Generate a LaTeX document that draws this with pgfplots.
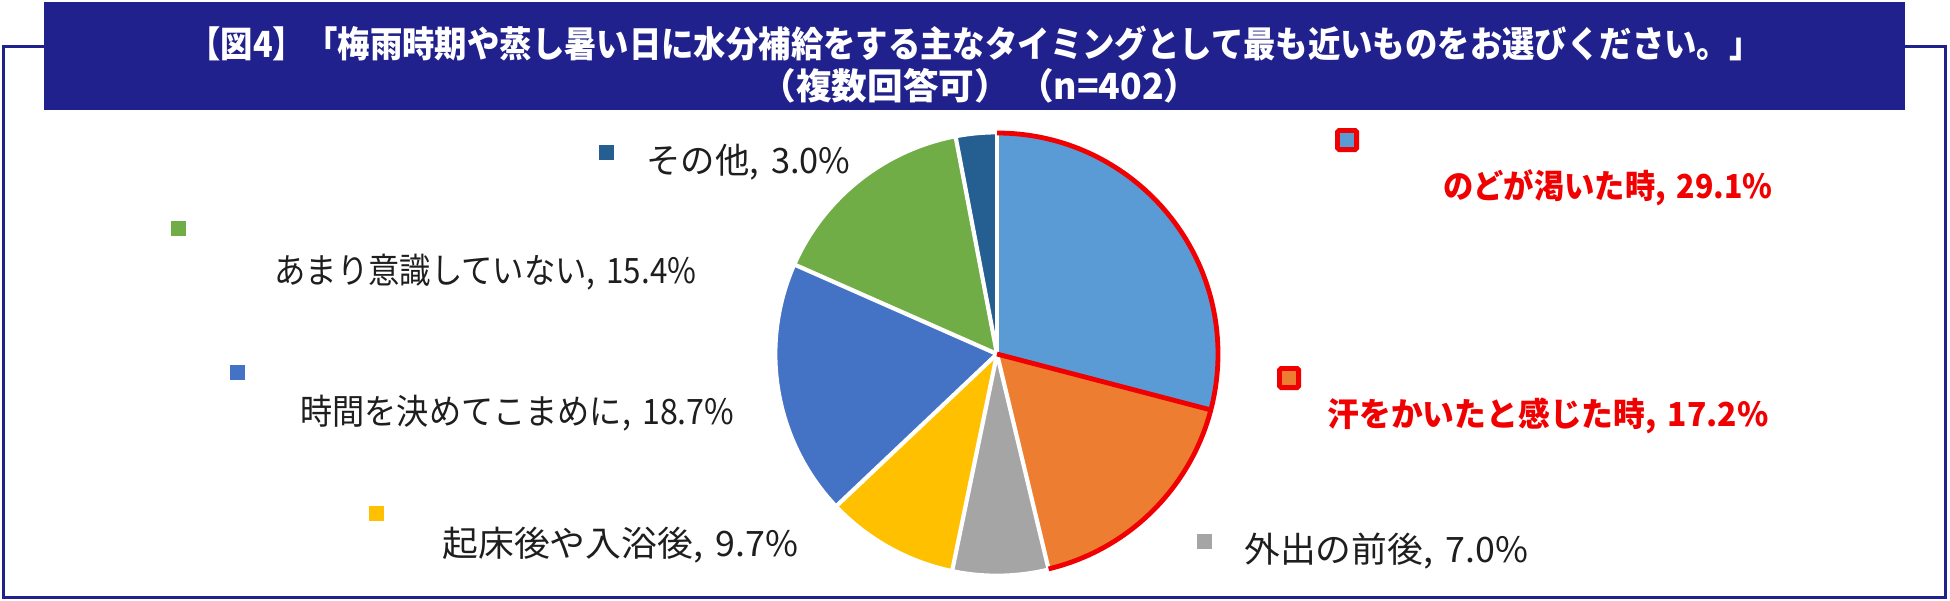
\documentclass[border=0pt]{standalone}
\usepackage{pgfplots}
\pgfplotsset{compat=1.18}
\usepackage{graphicx}
\usepackage{fontspec}
\setmainfont{Noto Sans CJK JP}
\definecolor{navy}{RGB}{32,33,140}
\definecolor{cA}{HTML}{5B9BD5}
\definecolor{cB}{HTML}{ED7D31}
\definecolor{cC}{HTML}{A5A5A5}
\definecolor{cD}{HTML}{FFC000}
\definecolor{cE}{HTML}{4472C4}
\definecolor{cF}{HTML}{70AD47}
\definecolor{cG}{HTML}{255E91}
\definecolor{lbl}{HTML}{1E1E1E}
\definecolor{hl}{HTML}{F00000}
\newcommand{\wbox}[2]{\resizebox{#1pt}{\height}{#2}}
\newcommand{\cs}{,\hspace{0.35em}}
\begin{document}
\begin{tikzpicture}
\path[use as bounding box] (0,0) rectangle (975pt,300pt);
% data (percent)
\def\vA{29.1}\def\vB{17.2}\def\vC{7.0}\def\vD{9.7}\def\vE{18.7}\def\vF{15.4}\def\vG{3.0}
\pgfmathsetmacro{\T}{\vA+\vB+\vC+\vD+\vE+\vF+\vG}
\pgfmathsetmacro{\sA}{0}
\pgfmathsetmacro{\sB}{\sA+\vA}
\pgfmathsetmacro{\sC}{\sB+\vB}
\pgfmathsetmacro{\sD}{\sC+\vC}
\pgfmathsetmacro{\sE}{\sD+\vD}
\pgfmathsetmacro{\sF}{\sE+\vE}
\pgfmathsetmacro{\sG}{\sF+\vF}
\pgfmathsetmacro{\sH}{\sG+\vG}
\pgfmathsetmacro{\aA}{90-360*(\sA/\T)}
\pgfmathsetmacro{\aB}{90-360*(\sB/\T)}
\pgfmathsetmacro{\aC}{90-360*(\sC/\T)}
\pgfmathsetmacro{\aD}{90-360*(\sD/\T)}
\pgfmathsetmacro{\aE}{90-360*(\sE/\T)}
\pgfmathsetmacro{\aF}{90-360*(\sF/\T)}
\pgfmathsetmacro{\aG}{90-360*(\sG/\T)}
\pgfmathsetmacro{\aH}{90-360*(\sH/\T)}
\def\R{110.5pt}
\begin{axis}[at={(0,0)}, anchor=south west, scale only axis,
  width=975pt, height=300pt, xmin=0, xmax=1950, ymin=0, ymax=600,
  y dir=reverse, hide axis, clip=false]
% frame and banner
\draw[navy, line width=1.5pt] (axis cs:3,46) rectangle (axis cs:1945,597);
\fill[navy] (axis cs:44,2) rectangle (axis cs:1905,110);
\node[text=white, font=\bfseries\fontsize{18pt}{20pt}\selectfont, inner sep=0] at (axis cs:975,44)
  {\wbox{786.5}{【図4】「梅雨時期や蒸し暑い日に水分補給をする主なタイミングとして最も近いものをお選びください。」}};
\node[text=white, font=\bfseries\fontsize{18pt}{20pt}\selectfont, inner sep=0] at (axis cs:980,86)
  {\wbox{219.5}{（複数回答可） （n=402）}};
% pie slices
\fill[cA] (axis cs:997,354) -- ++(\aA:\R) arc[start angle=\aA, end angle=\aB, radius=\R] -- cycle;
\fill[cB] (axis cs:997,354) -- ++(\aB:\R) arc[start angle=\aB, end angle=\aC, radius=\R] -- cycle;
\fill[cC] (axis cs:997,354) -- ++(\aC:\R) arc[start angle=\aC, end angle=\aD, radius=\R] -- cycle;
\fill[cD] (axis cs:997,354) -- ++(\aD:\R) arc[start angle=\aD, end angle=\aE, radius=\R] -- cycle;
\fill[cE] (axis cs:997,354) -- ++(\aE:\R) arc[start angle=\aE, end angle=\aF, radius=\R] -- cycle;
\fill[cF] (axis cs:997,354) -- ++(\aF:\R) arc[start angle=\aF, end angle=\aG, radius=\R] -- cycle;
\fill[cG] (axis cs:997,354) -- ++(\aG:\R) arc[start angle=\aG, end angle=\aH, radius=\R] -- cycle;
% white separators
\draw[white, line width=2.1pt] (axis cs:997,354) -- ++(\aA:\R);
\draw[white, line width=2.1pt] (axis cs:997,354) -- ++(\aC:\R);
\draw[white, line width=2.1pt] (axis cs:997,354) -- ++(\aD:\R);
\draw[white, line width=2.1pt] (axis cs:997,354) -- ++(\aE:\R);
\draw[white, line width=2.1pt] (axis cs:997,354) -- ++(\aF:\R);
\draw[white, line width=2.1pt] (axis cs:997,354) -- ++(\aG:\R);
\draw[white, line width=1.4pt] (axis cs:997,354) ++(\aC:\R) arc[start angle=\aC, end angle=\aH, radius=\R];
% red outline of highlighted slices
\draw[hl, line width=2.4pt] (axis cs:997,354) -- ++(\aB:\R);
\draw[hl, line width=2.4pt] (axis cs:997,354) ++(\aA:\R) arc[start angle=\aA, end angle=\aC, radius=\R];
% label keys
\node[fill=cG, minimum size=7.5pt, inner sep=0] at (axis cs:606,152) {};
\node[fill=cF, minimum size=7.5pt, inner sep=0] at (axis cs:178,228) {};
\node[fill=cE, minimum size=7.5pt, inner sep=0] at (axis cs:237,372) {};
\node[fill=cD, minimum size=7.5pt, inner sep=0] at (axis cs:376,513) {};
\node[fill=cC, minimum size=7.5pt, inner sep=0] at (axis cs:1204,541) {};
\node[fill=cA, draw=hl, line width=2.4pt, minimum size=9.6pt, inner sep=0, rounded corners=0.8pt] at (axis cs:1347,140) {};
\node[fill=cB, draw=hl, line width=2.4pt, minimum size=9.6pt, inner sep=0, rounded corners=0.8pt] at (axis cs:1289,378) {};
% labels
\tikzset{lb/.style={anchor=west, inner sep=0, text=lbl, font=\fontsize{17.5pt}{19pt}\selectfont},
         hb/.style={anchor=west, inner sep=0, text=hl, font=\bfseries\fontsize{16.5pt}{18pt}\selectfont}}
\node[lb] at (axis cs:646,162) {\wbox{102}{その他\cs 3.0\%}};
\node[lb] at (axis cs:274,272) {\wbox{211}{あまり意識していない\cs 15.4\%}};
\node[lb] at (axis cs:300,413) {\wbox{217}{時間を決めてこまめに\cs 18.7\%}};
\node[lb] at (axis cs:442,545) {\wbox{178}{起床後や入浴後\cs 9.7\%}};
\node[lb] at (axis cs:1244,551) {\wbox{142}{外出の前後\cs 7.0\%}};
\node[hb] at (axis cs:1443,188) {\wbox{164.5}{のどが渇いた時\cs 29.1\%}};
\node[hb] at (axis cs:1327,416) {\wbox{220.5}{汗をかいたと感じた時\cs 17.2\%}};
\end{axis}
\end{tikzpicture}
\end{document}
